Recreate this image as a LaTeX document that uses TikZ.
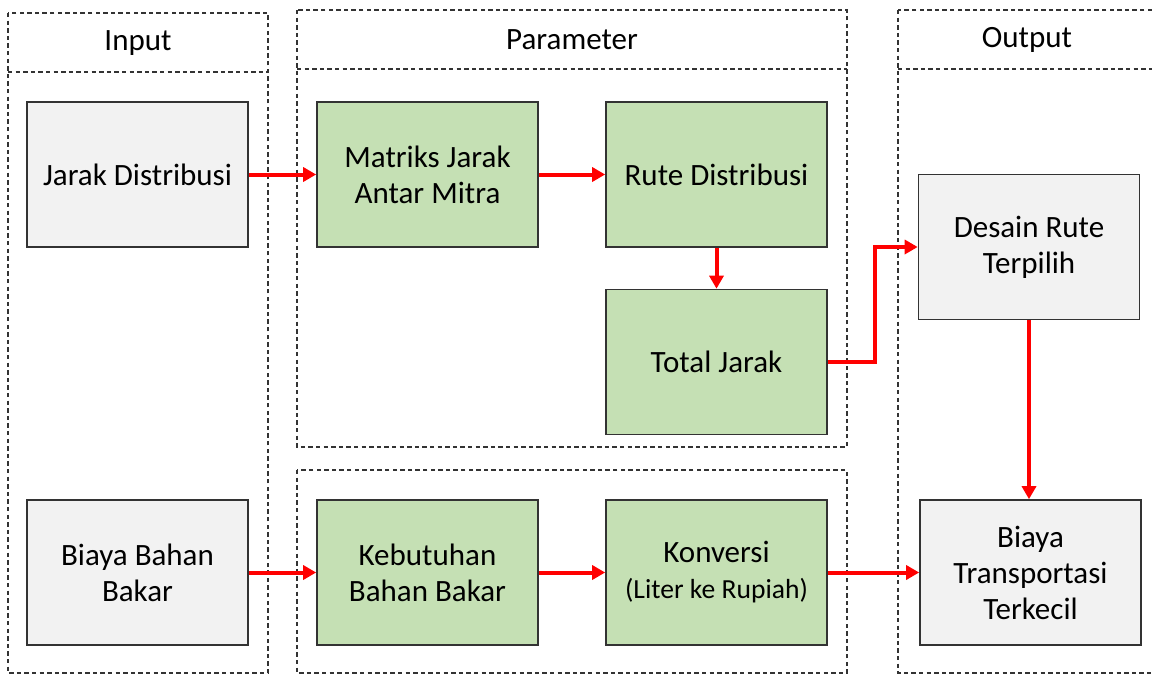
\documentclass[tikz,border=0pt]{standalone}
\usepackage{fontspec}
\setmainfont{Carlito}
\usetikzlibrary{arrows.meta}
\definecolor{boxgray}{HTML}{F2F2F2}
\definecolor{boxgreen}{HTML}{C5E0B4}
\definecolor{edge}{HTML}{333333}
\definecolor{flowred}{HTML}{FF0000}
\tikzset{
  lane/.style={draw=edge, line width=0.6pt, dash pattern=on 2.2pt off 1.6pt},
  block/.style={draw=edge, line width=0.8pt, minimum width=110.5pt, minimum height=72.5pt,
    inner sep=0pt, align=center, font=\fontsize{15.5}{18}\selectfont},
  inbox/.style={block, fill=boxgray},
  parbox/.style={block, fill=boxgreen},
  title/.style={font=\fontsize{15.5}{18}\selectfont},
  flow/.style={draw=flowred, line width=2pt, -{Triangle[length=6.5pt,width=7pt]}}
}
\begin{document}
\begin{tikzpicture}[x=0.5pt,y=-0.5pt]
\useasboundingbox (0,0) rectangle (1152,675);
\clip (0,0) rectangle (1152,675);

% lanes
\draw[lane] (8,13) rectangle (268,673);
\draw[lane] (8,72) -- (268,72);
\node[title] (tin) at (138,43) {Input};

\draw[lane] (297,10) rectangle (847,447);
\draw[lane] (297,69) -- (847,69);
\node[title] (tpar) at (572,40) {Parameter};

\draw[lane] (297,470) rectangle (847,673);

\draw[lane] (898,10) rectangle (1160,673);
\draw[lane] (898,69) -- (1160,69);
\node[title] (tout) at (1027,40) {Output};

% blocks
\node[inbox]  (jarak)     at (137.5,174.5) {Jarak Distribusi};
\node[parbox] (matriks)   at (427.5,174.5) {Matriks Jarak\\Antar Mitra};
\node[parbox] (rute)      at (716.5,174.5) {Rute Distribusi};
\node[parbox] (total)     at (716.5,362)   {Total Jarak};
\node[inbox]  (desain)    at (1029,247)    {Desain Rute\\Terpilih};
\node[inbox]  (biaya)     at (137.5,572.5) {Biaya Bahan\\Bakar};
\node[parbox] (kebutuhan) at (427.5,572.5) {Kebutuhan\\Bahan Bakar};
\node[parbox] (konversi)  at (716.5,572.5) {Konversi\\{\fontsize{13.8}{18}\selectfont(Liter ke Rupiah)}};
\node[inbox]  (transport) at (1030.5,572.5) {Biaya\\Transportasi\\Terkecil};

% flows
\draw[flow] (jarak.east) -- (matriks.west);
\draw[flow] (matriks.east) -- (rute.west);
\draw[flow] (rute.south) -- (total.north);
\draw[flow] (total.east) -- ++(47,0) |- (desain.west);
\draw[flow] (desain.south) -- (desain.south |- transport.north);
\draw[flow] (biaya.east) -- (kebutuhan.west);
\draw[flow] (kebutuhan.east) -- (konversi.west);
\draw[flow] (konversi.east) -- (transport.west);
\end{tikzpicture}
\end{document}
